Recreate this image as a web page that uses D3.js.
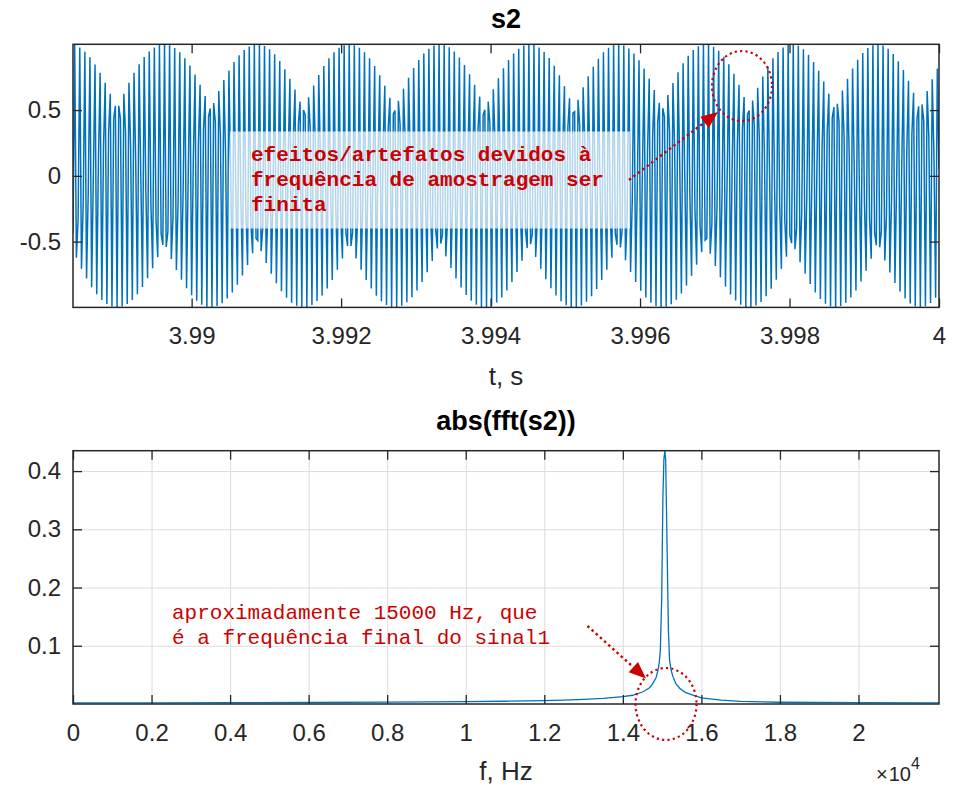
<!DOCTYPE html>
<html><head><meta charset="utf-8">
<script src="https://cdn.jsdelivr.net/npm/d3@7"></script>
<style>
body{margin:0;background:#fff}
svg{display:block}
</style>
</head><body>
<svg id="chart" width="955" height="787"></svg>
<script>
// ---------- data ----------
const sampleRate = 44100;
const tEnd = 4;
const s2 = [
-0.435,0.994,-0.622,-0.332,0.975,-0.706,-0.224,0.944,-0.781,-0.114,
0.902,-0.846,-0.002,0.847,-0.900,0.111,0.783,-0.943,0.222,0.707,
-0.975,0.330,0.624,-0.994,0.434,0.532,-1.000,0.532,0.434,-0.994,
0.624,0.329,-0.975,0.708,0.221,-0.943,0.783,0.109,-0.900,0.848,
-0.003,-0.845,0.903,-0.116,-0.779,0.946,-0.228,-0.703,0.976,-0.337,
-0.618,0.995,-0.441,-0.525,1.000,-0.540,-0.425,0.993,-0.632,-0.320,
0.972,-0.716,-0.210,0.939,-0.790,-0.098,0.894,-0.855,0.016,0.838,
-0.908,0.129,0.770,-0.950,0.241,0.693,-0.979,0.350,0.606,-0.996,
0.455,0.512,-1.000,0.553,0.410,-0.990,0.645,0.303,-0.968,0.728,
0.193,-0.933,0.801,0.079,-0.886,0.865,-0.035,-0.827,0.916,-0.150,
-0.757,0.956,-0.262,-0.677,0.983,-0.371,-0.588,0.998,-0.475,-0.492,
0.999,-0.573,-0.389,0.987,-0.663,-0.280,0.962,-0.745,-0.168,0.924,
-0.817,-0.053,0.873,-0.878,0.062,0.811,-0.927,0.177,0.738,-0.964,
0.289,0.656,-0.988,0.398,0.564,-0.999,0.501,0.465,-0.997,0.598,
0.360,-0.981,0.686,0.249,-0.952,0.766,0.135,-0.910,0.835,0.020,
-0.856,0.893,-0.096,-0.791,0.940,-0.211,-0.714,0.973,-0.323,-0.628,
0.993,-0.431,-0.533,1.000,-0.533,-0.431,0.993,-0.628,-0.324,0.973,
-0.714,-0.211,0.939,-0.791,-0.096,0.893,-0.857,0.021,0.835,-0.911,
0.137,0.764,-0.953,0.252,0.684,-0.982,0.364,0.594,-0.997,0.470,
0.496,-0.999,0.570,0.391,-0.987,0.663,0.280,-0.961,0.746,0.166,
-0.922,0.819,0.049,-0.871,0.881,-0.069,-0.807,0.930,-0.186,-0.732,
0.967,-0.300,-0.647,0.990,-0.410,-0.552,1.000,-0.515,-0.450,0.995,
-0.612,-0.342,0.977,-0.701,-0.229,0.945,-0.781,-0.112,0.900,-0.849,
0.006,0.842,-0.905,0.124,0.773,-0.949,0.241,0.692,-0.980,0.354,
0.602,-0.997,0.462,0.503,-0.999,0.564,0.397,-0.988,0.658,0.286,
-0.963,0.742,0.170,-0.924,0.817,0.051,-0.872,0.880,-0.068,-0.807,
0.930,-0.186,-0.731,0.967,-0.302,-0.645,0.991,-0.413,-0.549,1.000,
-0.519,-0.446,0.995,-0.617,-0.336,0.976,-0.707,-0.221,0.942,-0.786,
-0.103,0.896,-0.854,0.017,0.836,-0.910,0.136,0.764,-0.953,0.254,
0.682,-0.983,0.368,0.589,-0.998,0.477,0.488,-0.999,0.579,0.380,
-0.985,0.673,0.266,-0.957,0.757,0.148,-0.915,0.830,0.028,-0.860,
0.891,-0.092,-0.792,0.939,-0.212,-0.713,0.974,-0.328,-0.623,0.994,
-0.439,-0.524,1.000,-0.545,-0.418,0.991,-0.642,-0.305,0.968,-0.730,
-0.188,0.930,-0.807,-0.067,0.879,-0.873,0.054,0.815,-0.925,0.175,
0.739,-0.965,0.293,0.652,-0.989,0.407,0.555,-1.000,0.514,0.450,
-0.995,0.615,0.338,-0.976,0.706,0.221,-0.942,0.787,0.101,-0.894,
0.856,-0.021,-0.833,0.913,-0.143,-0.760,0.956,-0.263,-0.675,0.985,
-0.378,-0.580,0.999,-0.489,-0.476,0.998,-0.592,-0.365,0.982,-0.686,
-0.248,0.951,-0.770,-0.128,0.906,-0.842,-0.005,0.848,-0.902,0.117,
0.776,-0.948,0.238,0.693,-0.980,0.355,0.599,-0.997,0.467,0.497,
-0.999,0.572,0.386,-0.986,0.669,0.270,-0.958,0.755,0.149,-0.915,
0.830,0.027,-0.859,0.893,-0.097,-0.789,0.941,-0.219,-0.707,0.976,
-0.338,-0.614,0.995,-0.451,-0.512,1.000,-0.558,-0.402,0.989,-0.656,
-0.286,0.962,-0.745,-0.165,0.921,-0.822,-0.042,0.866,-0.886,0.082,
0.798,-0.937,0.205,0.717,-0.973,0.325,0.625,-0.994,0.440,0.523,
-1.000,0.548,0.413,-0.990,0.648,0.296,-0.965,0.738,0.175,-0.925,
0.816,0.051,-0.871,0.882,-0.074,-0.803,0.934,-0.198,-0.722,0.971,
-0.318,-0.630,0.993,-0.434,-0.528,1.000,-0.543,-0.418,0.991,-0.644,
-0.301,0.966,-0.735,-0.179,0.927,-0.814,-0.055,0.872,-0.880,0.071,
0.804,-0.933,0.195,0.723,-0.971,0.317,0.631,-0.993,0.434,0.529,
-1.000,0.543,0.418,-0.991,0.645,0.300,-0.966,0.735,0.178,-0.926,
0.815,0.053
];
const timeTicks = [3.99, 3.992, 3.994, 3.996, 3.998, 4];
const timeTickLabels = ["3.99", "3.992", "3.994", "3.996", "3.998", "4"];
const ampTicks = [-0.5, 0, 0.5];
const ampTickLabels = ["-0.5", "0", "0.5"];

const specFreq = [0, 2000, 4000, 6000, 8000, 10000, 11000, 12000, 12500, 13000, 13500, 14000, 14250, 14515, 14680, 14765, 14845, 14895, 14925, 14955, 14990, 15020, 15045, 15070, 15090, 15120, 15160, 15190, 15230, 15275, 15350, 15445, 15590, 15786, 16000, 16500, 17000, 18000, 20000, 22050];
const specMag  = [0.0020, 0.0021, 0.0023, 0.0026, 0.0031, 0.0040, 0.0047, 0.0058, 0.0068, 0.0080, 0.0098, 0.0125, 0.0150, 0.0210, 0.0280, 0.0355, 0.0450, 0.0580, 0.0700, 0.0930, 0.1840, 0.3560, 0.4200, 0.4350, 0.4200, 0.2980, 0.1270, 0.0750, 0.0580, 0.0470, 0.0350, 0.0270, 0.0200, 0.0154, 0.0105, 0.0068, 0.0045, 0.0030, 0.0023, 0.0020];
const freqTicks = [0, 2000, 4000, 6000, 8000, 10000, 12000, 14000, 16000, 18000, 20000];
const freqTickLabels = ["0", "0.2", "0.4", "0.6", "0.8", "1", "1.2", "1.4", "1.6", "1.8", "2"];
const magTicks = [0.1, 0.2, 0.3, 0.4];
const magTickLabels = ["0.1", "0.2", "0.3", "0.4"];

const titleTop = "s2";
const titleBottom = "abs(fft(s2))";
const xLabelTop = "t, s";
const xLabelBottom = "f, Hz";
const noteTop = ["efeitos/artefatos devidos à", "frequência de amostragem ser", "finita"];
const noteBottom = ["aproximadamente 15000 Hz, que", "é a frequência final do sinal1"];

// ---------- drawing ----------
const svg = d3.select("#chart");
const SANS = '"Liberation Sans", Arial, Helvetica, sans-serif';
const MONO = '"Liberation Mono", "Courier New", Courier, monospace';
const BLUE = "#0072BD", AX = "#262626", RED = "#CC0000";
const L = 73, R = 939;
const P1 = {top: 44.3, bottom: 307.4};
const P2 = {top: 450.7, bottom: 704};
const TICK = 9;
const tickFont = 24, labelFont = 26, titleFont = 27;

const nS = s2.length;
const t0 = tEnd - (nS - 1) / sampleRate;
const xT = d3.scaleLinear().domain([t0, tEnd]).range([L, R]);
const yA = d3.scaleLinear().domain([-1, 1]).range([P1.bottom, P1.top]);
const xF = d3.scaleLinear().domain([0, sampleRate / 2]).range([L, R]);
const yM = d3.scaleLinear().domain([0, d3.max(specMag)]).range([P2.bottom, P2.top]);

const defs = svg.append("defs");
defs.append("clipPath").attr("id", "clip1").append("rect")
  .attr("x", L).attr("y", P1.top).attr("width", R - L).attr("height", P1.bottom - P1.top);
defs.append("clipPath").attr("id", "clip2").append("rect")
  .attr("x", L).attr("y", P2.top).attr("width", R - L).attr("height", P2.bottom - P2.top);

function styleAxis(g, labels) {
  g.select(".domain").remove();
  g.selectAll(".tick line").attr("stroke", AX).attr("stroke-width", 1.3);
  g.selectAll(".tick text").style("font-family", SANS).style("font-size", tickFont + "px").attr("fill", AX);
  if (!labels) g.selectAll(".tick text").remove();
}
function addText(x, y, str, size, opts = {}) {
  return svg.append("text").attr("x", x).attr("y", y)
    .attr("text-anchor", opts.anchor || "middle")
    .style("font-family", opts.family || SANS)
    .style("font-size", size + "px")
    .style("font-weight", opts.weight || "normal")
    .attr("fill", opts.fill || AX).text(str);
}

// ---- top panel ----
const gTop = svg.append("g");
gTop.append("rect").attr("x", L).attr("y", P1.top).attr("width", R - L).attr("height", P1.bottom - P1.top).attr("fill", "#fff");

const line1 = d3.line().x((d, i) => xT(t0 + i / sampleRate)).y(d => yA(d));
gTop.append("path").datum(s2).attr("d", line1).attr("fill", "none")
  .attr("stroke", BLUE).attr("stroke-width", 1.5).attr("clip-path", "url(#clip1)");

gTop.append("g").attr("transform", `translate(0,${P1.bottom})`)
  .call(d3.axisBottom(xT).tickValues(timeTicks).tickFormat((d, i) => timeTickLabels[i]).tickSize(-TICK).tickPadding(20))
  .call(g => styleAxis(g, true));
gTop.append("g").attr("transform", `translate(0,${P1.top})`)
  .call(d3.axisTop(xT).tickValues(timeTicks).tickSize(-TICK))
  .call(g => styleAxis(g, false));
gTop.append("g").attr("transform", `translate(${L},0)`)
  .call(d3.axisLeft(yA).tickValues(ampTicks).tickFormat((d, i) => ampTickLabels[i]).tickSize(-TICK).tickPadding(12))
  .call(g => styleAxis(g, true));
gTop.append("g").attr("transform", `translate(${R},0)`)
  .call(d3.axisRight(yA).tickValues(ampTicks).tickSize(-TICK))
  .call(g => styleAxis(g, false));
gTop.append("rect").attr("x", L).attr("y", P1.top).attr("width", R - L).attr("height", P1.bottom - P1.top)
  .attr("fill", "none").attr("stroke", AX).attr("stroke-width", 1.5);

addText((L + R) / 2, 28, titleTop, titleFont, {weight: "bold", fill: "#000"});
addText((L + R) / 2, 385, xLabelTop, labelFont);

// annotation box (top)
svg.append("rect").attr("x", 230).attr("y", 131.5).attr("width", 400).attr("height", 97)
  .attr("fill", "#fff").attr("fill-opacity", 0.7);
noteTop.forEach((s, i) => addText(251, 161 + i * 25, s, 21, {anchor: "start", family: MONO, weight: "bold", fill: RED}));

function dottedArrow(x1, y1, x2, y2) {
  const dx = x2 - x1, dy = y2 - y1, len = Math.hypot(dx, dy);
  const ux = dx / len, uy = dy / len, hl = 17, hw = 7;
  const bx = x2 - ux * hl, by = y2 - uy * hl;
  svg.append("line").attr("x1", x1).attr("y1", y1).attr("x2", bx).attr("y2", by)
    .attr("stroke", RED).attr("stroke-width", 2.4).attr("stroke-dasharray", "2.4 3.2");
  svg.append("polygon").attr("fill", RED)
    .attr("points", `${x2},${y2} ${bx - uy * hw},${by + ux * hw} ${bx + uy * hw},${by - ux * hw}`);
}
function dottedEllipse(cx, cy, rx, ry) {
  svg.append("ellipse").attr("cx", cx).attr("cy", cy).attr("rx", rx).attr("ry", ry)
    .attr("fill", "none").attr("stroke", RED).attr("stroke-width", 2.2).attr("stroke-dasharray", "2.2 3.2");
}
dottedArrow(629, 180, 718, 112);
dottedEllipse(742, 86, 30, 35);

// ---- bottom panel ----
const gBot = svg.append("g");
gBot.append("g").attr("transform", `translate(0,${P2.bottom})`)
  .call(d3.axisBottom(xF).tickValues(freqTicks).tickSize(-(P2.bottom - P2.top)).tickFormat(""))
  .call(g => { g.select(".domain").remove(); g.selectAll("line").attr("stroke", "#dcdcdc").attr("stroke-width", 1); g.selectAll("text").remove(); });
gBot.append("g").attr("transform", `translate(${L},0)`)
  .call(d3.axisLeft(yM).tickValues(magTicks).tickSize(-(R - L)).tickFormat(""))
  .call(g => { g.select(".domain").remove(); g.selectAll("line").attr("stroke", "#dcdcdc").attr("stroke-width", 1); g.selectAll("text").remove(); });

const line2 = d3.line().x((d, i) => xF(specFreq[i])).y(d => yM(d));
gBot.append("path").datum(specMag).attr("d", line2).attr("fill", "none")
  .attr("stroke", BLUE).attr("stroke-width", 1.3).attr("clip-path", "url(#clip2)");

gBot.append("g").attr("transform", `translate(0,${P2.bottom})`)
  .call(d3.axisBottom(xF).tickValues(freqTicks).tickFormat((d, i) => freqTickLabels[i]).tickSize(-TICK).tickPadding(20))
  .call(g => styleAxis(g, true));
gBot.append("g").attr("transform", `translate(0,${P2.top})`)
  .call(d3.axisTop(xF).tickValues(freqTicks).tickSize(-TICK))
  .call(g => styleAxis(g, false));
gBot.append("g").attr("transform", `translate(${L},0)`)
  .call(d3.axisLeft(yM).tickValues(magTicks).tickFormat((d, i) => magTickLabels[i]).tickSize(-TICK).tickPadding(12))
  .call(g => styleAxis(g, true));
gBot.append("g").attr("transform", `translate(${R},0)`)
  .call(d3.axisRight(yM).tickValues(magTicks).tickSize(-TICK))
  .call(g => styleAxis(g, false));
gBot.append("rect").attr("x", L).attr("y", P2.top).attr("width", R - L).attr("height", P2.bottom - P2.top)
  .attr("fill", "none").attr("stroke", AX).attr("stroke-width", 1.5);

addText((L + R) / 2, 430, titleBottom, titleFont, {weight: "bold", fill: "#000"});
addText((L + R) / 2, 780, xLabelBottom, labelFont);
const ex = svg.append("text").attr("x", 876).attr("y", 781).style("font-family", SANS).style("font-size", "20px").attr("fill", AX);
ex.append("tspan").text("\u00d7");
ex.append("tspan").attr("dx", 1).text("10");
ex.append("tspan").style("font-size", "16px").attr("dy", -12).text("4");

noteBottom.forEach((s, i) => addText(172, 619 + i * 25, s, 21, {anchor: "start", family: MONO, fill: RED}));
dottedArrow(587.5, 626, 646, 678.5);
dottedEllipse(666, 704, 30.5, 36);
</script>
</body></html>
